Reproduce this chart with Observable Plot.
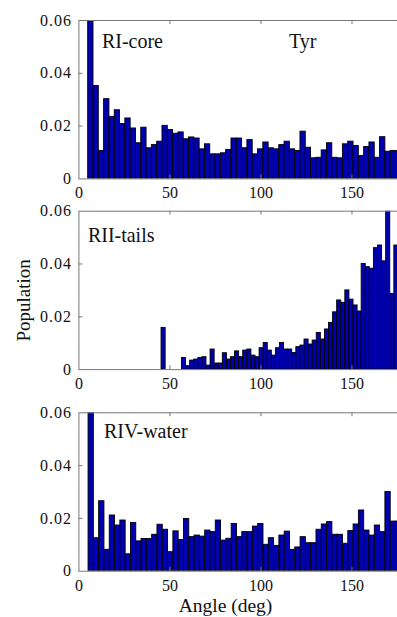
<!DOCTYPE html>
<html>
<head>
<meta charset="utf-8">
<script src="https://cdn.jsdelivr.net/npm/d3@7"></script>
<script src="https://cdn.jsdelivr.net/npm/@observablehq/plot@0.6"></script>
<style>
  html, body { margin: 0; padding: 0; background: #fff; }
  #wrap { position: relative; width: 397px; height: 617px; overflow: hidden; }
  .panel { position: absolute; left: 0; }
  .panel svg, .panel svg text { font-family: "Liberation Serif", "Times New Roman", serif !important; }
  .panel svg g[aria-label="y-axis tick label"] text { letter-spacing: 1px; }
</style>
</head>
<body>
<div id="wrap">
  <div class="panel" id="p1" style="top:0px"></div>
  <div class="panel" id="p2" style="top:203px"></div>
  <div class="panel" id="p3" style="top:393px"></div>
</div>
<script>
// ---- data ----
const xTicks = [0, 50, 100, 150];
const yTicks = [0, 0.02, 0.04, 0.06];
const panelNames = ["RI-core", "RII-tails", "RIV-water"];
const residue = "Tyr";
const xLabel = "Angle (deg)";
const yLabel = "Population";

// histogram range (MATLAB hist: 60 bins spanning data min .. 180)
const angleMax = 180;
const nBins = 60;
const coreMin = 5.1;
const tailsMin = 45.4;
const waterMin = 5.3;

const coreValues = [
  0.065, 0.0352, 0.0106, 0.0302, 0.0235, 0.026, 0.0208, 0.0229, 0.0191, 0.0135,
  0.0194, 0.0116, 0.0128, 0.0141, 0.0201, 0.0185, 0.0171, 0.0176, 0.015, 0.0157,
  0.0153, 0.0112, 0.0131, 0.0093, 0.0093, 0.0097, 0.011, 0.0153, 0.0153, 0.0116,
  0.0147, 0.0093, 0.0112, 0.0138, 0.0116, 0.0112, 0.0128, 0.0141, 0.0112, 0.0106,
  0.0179, 0.0118, 0.0078, 0.008, 0.0108, 0.0135, 0.008, 0.0078, 0.0131, 0.0141,
  0.0125, 0.0087, 0.0121, 0.0138, 0.008, 0.0158, 0.0103, 0.0106, 0.0105
];
const tailsValues = [
  0.0158, 0, 0, 0, 0, 0.0044, 0.0013, 0.0034, 0.0038, 0.0044,
  0.0047, 0.0015, 0.0076, 0.0023, 0.0023, 0.0062, 0.0038, 0.0047, 0.0069, 0.0047,
  0.0072, 0.0076, 0.0053, 0.0047, 0.0081, 0.0101, 0.0072, 0.0053, 0.0081, 0.0101,
  0.0076, 0.0076, 0.0063, 0.0085, 0.0091, 0.0114, 0.0095, 0.011, 0.0139, 0.0114,
  0.0152, 0.0177, 0.0217, 0.0262, 0.0253, 0.03, 0.0265, 0.0243, 0.022, 0.04,
  0.0388, 0.0382, 0.046, 0.047, 0.041, 0.065, 0.0287, 0.047
];
const waterValues = [
  0.065, 0.0125, 0.0265, 0.0081, 0.0211, 0.0173, 0.0192, 0.0064, 0.0183, 0.0113,
  0.0122, 0.0122, 0.0138, 0.0176, 0.0157, 0.0072, 0.0151, 0.0118, 0.0198, 0.0129,
  0.0135, 0.0131, 0.0154, 0.0148, 0.0192, 0.0116, 0.0123, 0.0179, 0.0129, 0.0148,
  0.0148, 0.0169, 0.0179, 0.01, 0.0125, 0.0096, 0.0135, 0.015, 0.0081, 0.009,
  0.0129, 0.0106, 0.0106, 0.0157, 0.0177, 0.0186, 0.0138, 0.0138, 0.0104, 0.0152,
  0.0177, 0.023, 0.0154, 0.0135, 0.0173, 0.0148, 0.03, 0.0188, 0.0188
];

function bins(values, lo) {
  const w = (angleMax - lo) / nBins;
  return values
    .map((v, i) => ({x1: lo + i * w, x2: lo + (i + 1) * w, y: v}))
    .filter(d => d.y > 0);
}

const FONT = "Liberation Serif";
const BAR = "#0000b0";
const AXIS = "#777";
const INK = "#111";

function panel({values, lo, marginTop, marginBottom, extra}) {
  const inner = 158.4;
  return Plot.plot({
    width: 397,
    height: marginTop + inner + marginBottom,
    marginLeft: 78.4,
    marginRight: 0,
    marginTop,
    marginBottom,
    style: {fontSize: "16px", color: INK, background: "transparent", overflow: "visible"},
    x: {domain: [0, 175]},
    y: {domain: [0, 0.06]},
    marks: [
      Plot.rectY(bins(values, lo), {x1: "x1", x2: "x2", y: "y", fill: BAR, stroke: "#000", strokeWidth: 0.9, clip: true}),
      Plot.frame({stroke: AXIS}),
      Plot.ruleY(yTicks.slice(1, -1), {y: d => d, x1: 0, x2: 2.2, stroke: AXIS}),
      Plot.ruleX(xTicks.slice(1), {x: d => d, y1: 0.06, y2: 0.0585, stroke: AXIS}),
      Plot.ruleX(xTicks.slice(1), {x: d => d, y1: 0, y2: 0.0015, stroke: AXIS}),
      Plot.axisX({ticks: xTicks, tickSize: 0, tickPadding: 8, tickFormat: d => String(d), label: null,
                  fontFamily: FONT, fontSize: 16, fill: INK}),
      Plot.axisY({ticks: yTicks, tickSize: 0, tickPadding: 7, tickFormat: d => d === 0 ? "0" : d.toFixed(2),
                  label: null, fontFamily: FONT, fontSize: 16, fill: INK}),
      ...extra
    ]
  });
}

const labelStyle = {fontSize: 20, fill: INK, lineAnchor: "middle", fontFamily: FONT};

document.getElementById("p1").appendChild(panel({
  values: coreValues, lo: coreMin, marginTop: 20, marginBottom: 24,
  extra: [
    Plot.text([panelNames[0]], {text: d => d, frameAnchor: "top-left", textAnchor: "start", dx: 23, dy: 21, ...labelStyle}),
    Plot.text([residue], {text: d => d, frameAnchor: "top-right", textAnchor: "end", dx: -81, dy: 21, ...labelStyle})
  ]
}));

document.getElementById("p2").appendChild(panel({
  values: tailsValues, lo: tailsMin, marginTop: 7.7, marginBottom: 24,
  extra: [
    Plot.text([panelNames[1]], {text: d => d, frameAnchor: "top-left", textAnchor: "start", dx: 9, dy: 24, ...labelStyle}),
    Plot.text([yLabel], {text: d => d, frameAnchor: "left", textAnchor: "middle", rotate: -90, dx: -54.5, dy: 10, ...labelStyle, fontSize: 19})
  ]
}));

document.getElementById("p3").appendChild(panel({
  values: waterValues, lo: waterMin, marginTop: 19.3, marginBottom: 46.3,
  extra: [
    Plot.text([panelNames[2]], {text: d => d, frameAnchor: "top-left", textAnchor: "start", dx: 25, dy: 19, ...labelStyle}),
    Plot.text([xLabel], {text: d => d, frameAnchor: "bottom", textAnchor: "middle", dx: -12.7, dy: 35, ...labelStyle, fontSize: 19.5})
  ]
}));
</script>
</body>
</html>
